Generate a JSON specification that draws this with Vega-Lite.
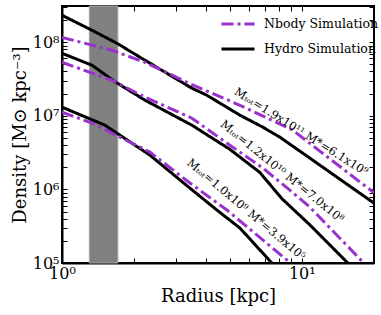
{
  "$schema": "https://vega.github.io/schema/vega-lite/v6.json",
  "width": 312,
  "height": 257,
  "autosize": {"type": "none"},
  "padding": {"left": 62, "top": 6, "right": 7, "bottom": 52},
  "background": "white",
  "config": {
    "font": "DejaVu Serif",
    "view": {"stroke": "black", "strokeWidth": 2},
    "axis": {
      "domainColor": "black", "domainWidth": 2, "tickColor": "black", "tickWidth": 1,
      "labelColor": "black", "titleColor": "black", "grid": false,
      "labelFont": "DejaVu Serif",
      "titleFont": "DejaVu Serif", "titleFontWeight": "normal"
    },
    "legend": {"labelFont": "DejaVu Serif", "labelColor": "black"},
    "text": {"font": "DejaVu Serif"}
  },
  "datasets": {
    "curves": [
      {"sim": "Hydro Simulation", "mass": "a", "r": 1, "rho": 2.32e8},
      {"sim": "Hydro Simulation", "mass": "a", "r": 1.334, "rho": 1.45e8},
      {"sim": "Hydro Simulation", "mass": "a", "r": 1.695, "rho": 9.66e7},
      {"sim": "Hydro Simulation", "mass": "a", "r": 2.218, "rho": 5.68e7},
      {"sim": "Hydro Simulation", "mass": "a", "r": 3.481, "rho": 2.37e7},
      {"sim": "Hydro Simulation", "mass": "a", "r": 4.019, "rho": 1.9e7},
      {"sim": "Hydro Simulation", "mass": "a", "r": 5.516, "rho": 1.02e7},
      {"sim": "Hydro Simulation", "mass": "a", "r": 6.878, "rho": 7.0e6},
      {"sim": "Hydro Simulation", "mass": "a", "r": 8.094, "rho": 5.13e6},
      {"sim": "Hydro Simulation", "mass": "a", "r": 10.8, "rho": 2.66e6},
      {"sim": "Hydro Simulation", "mass": "a", "r": 20, "rho": 6.5e5},
      {"sim": "Nbody Simulation", "mass": "a", "r": 1, "rho": 1.16e8},
      {"sim": "Nbody Simulation", "mass": "a", "r": 1.615, "rho": 7.76e7},
      {"sim": "Nbody Simulation", "mass": "a", "r": 2.218, "rho": 5.33e7},
      {"sim": "Nbody Simulation", "mass": "a", "r": 3.381, "rho": 2.77e7},
      {"sim": "Nbody Simulation", "mass": "a", "r": 5.516, "rho": 1.39e7},
      {"sim": "Nbody Simulation", "mass": "a", "r": 9.173, "rho": 6.38e6},
      {"sim": "Nbody Simulation", "mass": "a", "r": 11.89, "rho": 3.31e6},
      {"sim": "Nbody Simulation", "mass": "a", "r": 20, "rho": 9.0e5},
      {"sim": "Hydro Simulation", "mass": "b", "r": 1, "rho": 7.06e7},
      {"sim": "Hydro Simulation", "mass": "b", "r": 1.334, "rho": 4.86e7},
      {"sim": "Hydro Simulation", "mass": "b", "r": 1.663, "rho": 2.9e7},
      {"sim": "Hydro Simulation", "mass": "b", "r": 2.218, "rho": 1.63e7},
      {"sim": "Hydro Simulation", "mass": "b", "r": 3.481, "rho": 7.45e6},
      {"sim": "Hydro Simulation", "mass": "b", "r": 5.012, "rho": 3.5e6},
      {"sim": "Hydro Simulation", "mass": "b", "r": 6.683, "rho": 1.7e6},
      {"sim": "Hydro Simulation", "mass": "b", "r": 8.254, "rho": 7.5e5},
      {"sim": "Hydro Simulation", "mass": "b", "r": 10.8, "rho": 3.3e5},
      {"sim": "Hydro Simulation", "mass": "b", "r": 15.55, "rho": 1.0e5},
      {"sim": "Hydro Simulation", "mass": "b", "r": 17, "rho": 7.5e4},
      {"sim": "Nbody Simulation", "mass": "b", "r": 1, "rho": 5.33e7},
      {"sim": "Nbody Simulation", "mass": "b", "r": 1.615, "rho": 3.04e7},
      {"sim": "Nbody Simulation", "mass": "b", "r": 2.218, "rho": 1.79e7},
      {"sim": "Nbody Simulation", "mass": "b", "r": 3.481, "rho": 9.27e6},
      {"sim": "Nbody Simulation", "mass": "b", "r": 5.012, "rho": 3.99e6},
      {"sim": "Nbody Simulation", "mass": "b", "r": 6.878, "rho": 1.95e6},
      {"sim": "Nbody Simulation", "mass": "b", "r": 8.913, "rho": 9.77e5},
      {"sim": "Nbody Simulation", "mass": "b", "r": 10.8, "rho": 5.75e5},
      {"sim": "Nbody Simulation", "mass": "b", "r": 18.13, "rho": 1.0e5},
      {"sim": "Nbody Simulation", "mass": "b", "r": 19.5, "rho": 8.0e4},
      {"sim": "Hydro Simulation", "mass": "c", "r": 1, "rho": 1.31e7},
      {"sim": "Hydro Simulation", "mass": "c", "r": 1.51, "rho": 7.45e6},
      {"sim": "Hydro Simulation", "mass": "c", "r": 2.326, "rho": 2.92e6},
      {"sim": "Hydro Simulation", "mass": "c", "r": 3.415, "rho": 1.04e6},
      {"sim": "Hydro Simulation", "mass": "c", "r": 4.424, "rho": 5.24e5},
      {"sim": "Hydro Simulation", "mass": "c", "r": 5.516, "rho": 2.99e5},
      {"sim": "Hydro Simulation", "mass": "c", "r": 7.499, "rho": 1.0e5},
      {"sim": "Hydro Simulation", "mass": "c", "r": 8, "rho": 8.0e4},
      {"sim": "Nbody Simulation", "mass": "c", "r": 1, "rho": 1.12e7},
      {"sim": "Nbody Simulation", "mass": "c", "r": 1.334, "rho": 7.94e6},
      {"sim": "Nbody Simulation", "mass": "c", "r": 2.326, "rho": 3.21e6},
      {"sim": "Nbody Simulation", "mass": "c", "r": 3.415, "rho": 1.22e6},
      {"sim": "Nbody Simulation", "mass": "c", "r": 4.87, "rho": 5.24e5},
      {"sim": "Nbody Simulation", "mass": "c", "r": 8.66, "rho": 1.1e5},
      {"sim": "Nbody Simulation", "mass": "c", "r": 8.9, "rho": 9.0e4}
    ],
    "band": [{"r1": 1.3, "r2": 1.71}],
    "labels": [
      {"name": "a", "r": 9.9, "rho": 5.98e6, "text": "Mₜₒₜ=1.9x10¹¹  M*=6.1x10⁹"},
      {"name": "b", "r": 8.25, "rho": 1.72e6, "text": "Mₜₒₜ=1.2x10¹⁰  M*=7.0x10⁸"},
      {"name": "c", "r": 5.84, "rho": 5.24e5, "text": "Mₜₒₜ=1.0x10⁹  M*=3.9x10⁵"}
    ]
  },
  "layer": [
    {
      "data": {"name": "band"},
      "mark": {"type": "rect", "fill": "#808080", "stroke": "#a8a8a8", "strokeWidth": 1},
      "encoding": {
        "x": {"field": "r1", "type": "quantitative",
          "axis": {"orient": "top", "title": null, "labels": false, "domain": false,
            "values": [1, 2, 3, 4, 5, 6, 7, 8, 9, 10, 20], "tickSize": -5}},
        "x2": {"field": "r2"}
      }
    },
    {
      "data": {"name": "curves"},
      "mark": {"type": "line", "clip": true, "strokeWidth": 3},
      "encoding": {
        "x": {"field": "r", "type": "quantitative",
          "scale": {"type": "log", "domain": [1, 20], "nice": false},
          "axis": {"orient": "bottom", "title": "Radius [kpc]", "titleFontSize": 18, "titlePadding": 6,
            "values": [1, 2, 3, 4, 5, 6, 7, 8, 9, 10, 20], "tickSize": -5, "labelPadding": 7,
            "labelFontSize": 16, "labelFlush": false,
            "labelExpr": "datum.value == 1 ? '10⁰' : datum.value == 10 ? '10¹' : ''"}},
        "y": {"field": "rho", "type": "quantitative",
          "scale": {"type": "log", "domain": [100000, 310000000], "nice": false},
          "axis": {"orient": "left", "title": "Density [M⊙ kpc⁻³]", "titleFontSize": 18, "titlePadding": 3,
            "values": [100000, 200000, 300000, 400000, 500000, 600000, 700000, 800000, 900000,
              1000000, 2000000, 3000000, 4000000, 5000000, 6000000, 7000000, 8000000, 9000000,
              10000000, 20000000, 30000000, 40000000, 50000000, 60000000, 70000000, 80000000, 90000000,
              100000000, 200000000, 300000000],
            "tickSize": -5, "labelPadding": 8, "labelFontSize": 16, "labelFlush": false,
            "labelExpr": "datum.value == 100000 ? '10⁵' : datum.value == 1000000 ? '10⁶' : datum.value == 10000000 ? '10⁷' : datum.value == 100000000 ? '10⁸' : ''"}},
        "color": {"field": "sim", "type": "nominal",
          "scale": {"domain": ["Nbody Simulation", "Hydro Simulation"], "range": ["#9932cc", "#000000"]},
          "legend": {"title": null, "orient": "none", "legendX": 158, "legendY": 0, "padding": 0,
            "symbolType": "stroke", "symbolSize": 1089, "symbolStrokeWidth": 3,
            "labelFontSize": 12.5, "labelOffset": 8, "rowPadding": -17}},
        "strokeDash": {"field": "sim", "type": "nominal",
          "scale": {"domain": ["Nbody Simulation", "Hydro Simulation"], "range": [[12, 4, 3, 4], [1, 0]]},
          "legend": {"title": null, "orient": "none", "legendX": 158, "legendY": 0, "padding": 0,
            "symbolType": "stroke", "symbolSize": 1089, "symbolStrokeWidth": 3,
            "labelFontSize": 12.5, "labelOffset": 8, "rowPadding": -17}},
        "detail": {"field": "mass", "type": "nominal"},
        "order": {"field": "r", "type": "quantitative"}
      }
    },
    {
      "data": {"name": "labels"},
      "transform": [{"filter": "datum.name == 'a'"}],
      "mark": {"type": "text", "angle": 32, "fontSize": 11.5, "color": "black", "align": "center", "baseline": "middle"},
      "encoding": {
        "x": {"field": "r", "type": "quantitative", "axis": null},
        "y": {"field": "rho", "type": "quantitative",
          "axis": {"orient": "right", "title": null, "labels": false, "domain": false,
            "values": [100000, 200000, 300000, 400000, 500000, 600000, 700000, 800000, 900000,
              1000000, 2000000, 3000000, 4000000, 5000000, 6000000, 7000000, 8000000, 9000000,
              10000000, 20000000, 30000000, 40000000, 50000000, 60000000, 70000000, 80000000, 90000000,
              100000000, 200000000, 300000000], "tickSize": -5}},
        "text": {"field": "text"}
      }
    },
    {
      "data": {"name": "labels"},
      "transform": [{"filter": "datum.name == 'b'"}],
      "mark": {"type": "text", "angle": 39, "fontSize": 11.5, "color": "black", "align": "center", "baseline": "middle"},
      "encoding": {
        "x": {"field": "r", "type": "quantitative", "axis": null},
        "y": {"field": "rho", "type": "quantitative", "axis": null},
        "text": {"field": "text"}
      }
    },
    {
      "data": {"name": "labels"},
      "transform": [{"filter": "datum.name == 'c'"}],
      "mark": {"type": "text", "angle": 40, "fontSize": 11.5, "color": "black", "align": "center", "baseline": "middle"},
      "encoding": {
        "x": {"field": "r", "type": "quantitative", "axis": null},
        "y": {"field": "rho", "type": "quantitative", "axis": null},
        "text": {"field": "text"}
      }
    }
  ],
  "resolve": {"axis": {"x": "independent", "y": "independent"}}
}
